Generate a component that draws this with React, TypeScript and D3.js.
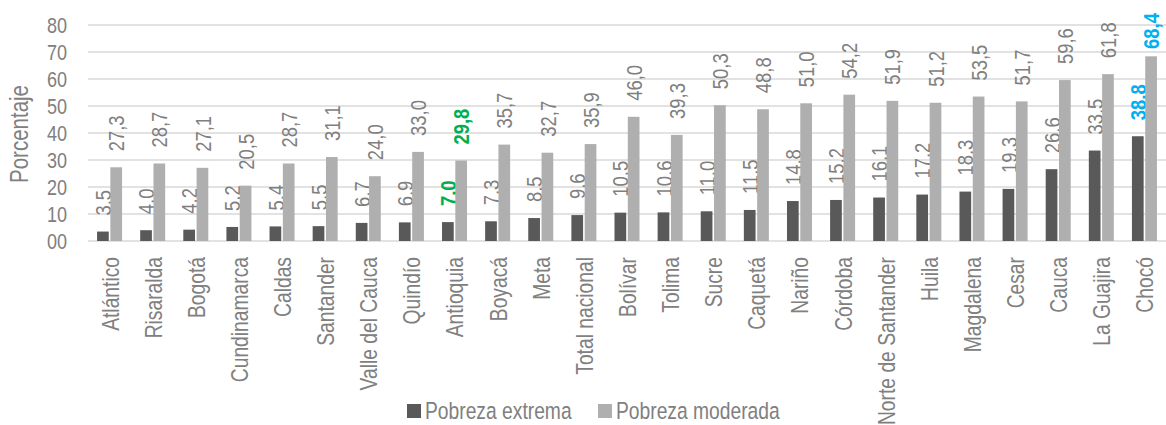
import React from 'react';
import * as d3 from 'd3';

const categories = [
  'Atlántico', 'Risaralda', 'Bogotá', 'Cundinamarca', 'Caldas', 'Santander',
  'Valle del Cauca', 'Quindío', 'Antioquia', 'Boyacá', 'Meta', 'Total nacional',
  'Bolívar', 'Tolima', 'Sucre', 'Caquetá', 'Nariño', 'Córdoba',
  'Norte de Santander', 'Huila', 'Magdalena', 'Cesar', 'Cauca', 'La Guajira', 'Chocó'
];
const pobrezaExtrema = [
  3.5, 4.0, 4.2, 5.2, 5.4, 5.5, 6.7, 6.9, 7.0, 7.3, 8.5, 9.6,
  10.5, 10.6, 11.0, 11.5, 14.8, 15.2, 16.1, 17.2, 18.3, 19.3, 26.6, 33.5, 38.8
];
const pobrezaModerada = [
  27.3, 28.7, 27.1, 20.5, 28.7, 31.1, 24.0, 33.0, 29.8, 35.7, 32.7, 35.9,
  46.0, 39.3, 50.3, 48.8, 51.0, 54.2, 51.9, 51.2, 53.5, 51.7, 59.6, 61.8, 68.4
];
const yTicks = [0, 10, 20, 30, 40, 50, 60, 70, 80];
const yTickLabels = ['00', '10', '20', '30', '40', '50', '60', '70', '80'];
const seriesNames = ['Pobreza extrema', 'Pobreza moderada'];
const seriesColors = ['#595959', '#afafaf'];
// highlighted categories
const highlight: Record<string, string> = { Antioquia: '#00b050', 'Chocó': '#00b0f0' };

const W = 1166;
const H = 425;
// no narrow font installed -> squeeze Liberation Sans to look like Arial Narrow
const font = "'Liberation Sans', Arial, sans-serif";
const SQ = 0.82;
const LBL = 22.5;
const fmt = (v: number) => v.toFixed(1).replace('.', ',');

export default function App() {
  const x = d3.scaleBand<string>().domain(categories).range([88.5, 1166.5]);
  const inner = d3.scaleBand<number>().domain([0, 1])
    .range([x.bandwidth() / 2 - 13, x.bandwidth() / 2 + 12]).paddingInner(0.12);
  const y = d3.scaleLinear().domain([0, 80]).range([241, 25]);
  const series = [pobrezaExtrema, pobrezaModerada];

  return (
    <svg width={W} height={H} style={{ position: 'absolute', left: 0, top: 0, background: '#fff' }}
      fontFamily={font}>
      {yTicks.map((t, i) => (
        <g key={t}>
          <line x1={88} x2={1166} y1={y(t)} y2={y(t)} stroke="#d9d9d9" strokeWidth={1.5} />
          <text transform={`translate(67,${y(t)}) scale(${SQ},1)`} dy="0.36em" textAnchor="end"
            fontSize={22} fill="#808080">
            {yTickLabels[i]}
          </text>
        </g>
      ))}
      <text transform={`translate(28,134) rotate(-90) scale(${SQ},1)`} textAnchor="middle"
        fontSize={25} fill="#808080">
        Porcentaje
      </text>
      {categories.map((c, i) => {
        const gx = x(c)!;
        const hc = highlight[c];
        return (
          <g key={c}>
            {series.map((s, k) => {
              const bx = gx + inner(k)!;
              const bw = inner.bandwidth();
              const top = y(s[i]);
              const cx = bx + bw / 2;
              const label = fmt(s[i]);
              // keep the label inside the chart area, like the spreadsheet does
              const len = ((label.length - 1) * 0.556 + 0.278) * LBL * SQ;
              const ly = Math.max(top - 16, 13 + len);
              return (
                <g key={k}>
                  <rect x={bx} y={top} width={bw} height={y(0) - top} fill={seriesColors[k]} />
                  <text transform={`translate(${cx},${ly}) rotate(-90) scale(${SQ},1)`} dy="0.36em"
                    textAnchor="start" fontSize={LBL}
                    fill={hc || '#7f7f7f'} fontWeight={hc ? 'bold' : 'normal'}>
                    {label}
                  </text>
                </g>
              );
            })}
            <text transform={`translate(${gx + x.bandwidth() / 2},257) rotate(-90) scale(${SQ},1)`}
              dy="0.36em" textAnchor="end" fontSize={23.5} fill="#808080">
              {c}
            </text>
          </g>
        );
      })}
      {seriesNames.map((n, k) => {
        const lx = k === 0 ? 407 : 598;
        return (
          <g key={n}>
            <rect x={lx} y={404} width={14} height={14} fill={seriesColors[k]} />
            <text transform={`translate(${lx + 18},419) scale(${SQ},1)`} fontSize={23.5} fill="#808080">
              {n}
            </text>
          </g>
        );
      })}
    </svg>
  );
}
